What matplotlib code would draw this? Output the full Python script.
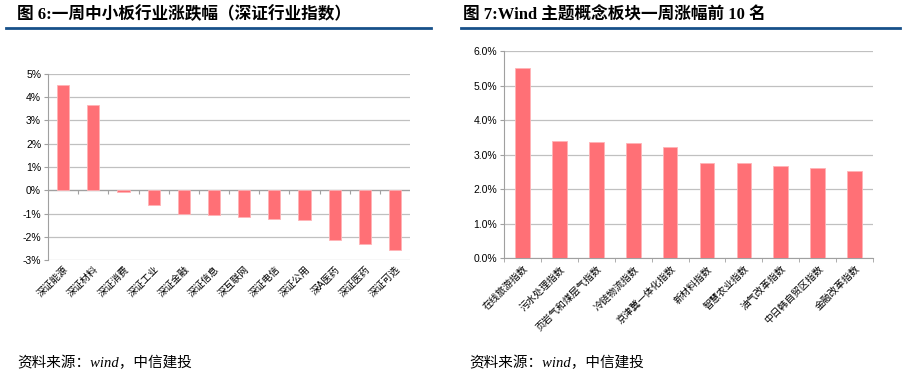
import numpy as np
import matplotlib
matplotlib.use("Agg")
from matplotlib import pyplot as plt
from matplotlib.ticker import FuncFormatter, FixedLocator

# data
cats6 = ["深证能源", "深证材料", "深证消费", "深证工业", "深证金融", "深证信息",
         "深互联网", "深证电信", "深证公用", "深A医药", "深证医药", "深证可选"]
vals6 = [4.52, 3.68, -0.08, -0.65, -1.0, -1.08, -1.13, -1.23, -1.27, -2.15, -2.3, -2.55]

cats7 = ["在线旅游指数", "污水处理指数", "页岩气和煤层气指数", "冷链物流指数", "京津冀一体化指数",
         "新材料指数", "智慧农业指数", "油气改革指数", "中日韩自贸区指数", "金融改革指数"]
vals7 = [5.5, 3.38, 3.36, 3.35, 3.22, 2.77, 2.75, 2.68, 2.61, 2.52]

title6 = "图 6:一周中小板行业涨跌幅（深证行业指数）"
title7 = "图 7:Wind 主题概念板块一周涨幅前 10 名"
source = "资料来源：wind，中信建投"

bar_c = "#FF7076"
edge_c = "#FFB3B6"
grid_c = "#C0C0C0"
blue = "#17508A"
sans = ["Liberation Sans", "Noto Sans CJK SC"]
serif_b = ["Liberation Serif", "Noto Sans CJK SC"]

fig = plt.figure(figsize=(9.03, 3.87), dpi=100)


def style_axes(ax):
    for s in ["top", "right"]:
        ax.spines[s].set_visible(False)
    ax.spines["left"].set_color("#A0A0A0")
    ax.yaxis.grid(True, color=grid_c, linewidth=0.9)
    ax.set_axisbelow(True)
    ax.tick_params(axis="y", length=3, color="#A0A0A0", labelsize=7.5, pad=2)
    for t in ax.get_yticklabels():
        t.set_family(sans)


# left chart
ax1 = fig.add_axes([0.0532, 0.328, 0.401, 0.481])
x6 = np.arange(len(cats6))
ax1.bar(x6, vals6, width=0.4, color=bar_c, edgecolor=edge_c, linewidth=0.6, zorder=3)
ax1.set_ylim(-3, 5)
ax1.set_xlim(-0.5, len(cats6) - 0.5)
ax1.set_yticks(np.arange(-3, 6, 1))
ax1.yaxis.set_major_formatter(FuncFormatter(lambda v, p: f"{v:.0f}%"))
style_axes(ax1)
ax1.spines["bottom"].set_visible(False)
ax1.set_xticks(x6)
ax1.set_xticklabels(cats6, rotation=45, ha="right", rotation_mode="anchor",
                    fontsize=7, family=sans)
ax1.tick_params(axis="x", length=0, pad=3)
ax1.axhline(0, color="#A0A0A0", linewidth=0.9, zorder=2)
sec = ax1.secondary_xaxis(3 / 8)
sec.spines["bottom"].set_visible(False)
sec.xaxis.set_major_locator(FixedLocator(x6[:-1] + 0.5))
sec.tick_params(axis="x", length=3, color="#A0A0A0", labelbottom=False)

# right chart
ax2 = fig.add_axes([0.558, 0.333, 0.409, 0.535])
x7 = np.arange(len(cats7))
ax2.bar(x7, vals7, width=0.4, color=bar_c, edgecolor=edge_c, linewidth=0.6, zorder=3)
ax2.set_ylim(0, 6)
ax2.set_xlim(-0.5, len(cats7) - 0.5)
ax2.set_yticks(np.arange(0, 7, 1))
ax2.yaxis.set_major_formatter(FuncFormatter(lambda v, p: f"{v:.1f}%"))
style_axes(ax2)
ax2.spines["bottom"].set_color("#A0A0A0")
ax2.set_xticks(x7)
ax2.set_xticklabels(cats7, rotation=45, ha="right", rotation_mode="anchor",
                    fontsize=7, family=sans)
ax2.tick_params(axis="x", which="major", length=0, pad=4)
ax2.xaxis.set_minor_locator(FixedLocator(np.append(x7 - 0.5, x7[-1] + 0.5)))
ax2.tick_params(axis="x", which="minor", length=3, color="#A0A0A0")

# titles and rules
fig.text(0.019, 0.961, title6, fontsize=12, fontweight="bold", family=serif_b, va="center")
fig.text(0.513, 0.961, title7, fontsize=12, fontweight="bold", family=serif_b, va="center")
fig.add_artist(plt.Line2D([0.007, 0.477], [0.928, 0.928], color=blue, linewidth=2))
fig.add_artist(plt.Line2D([0.510, 0.997], [0.928, 0.928], color=blue, linewidth=2))

fig.text(0.019, 0.062, source, fontsize=10.5, style="italic", family=serif_b, va="center")
fig.text(0.520, 0.062, source, fontsize=10.5, style="italic", family=serif_b, va="center")

fig.savefig("out.png", dpi=100)
